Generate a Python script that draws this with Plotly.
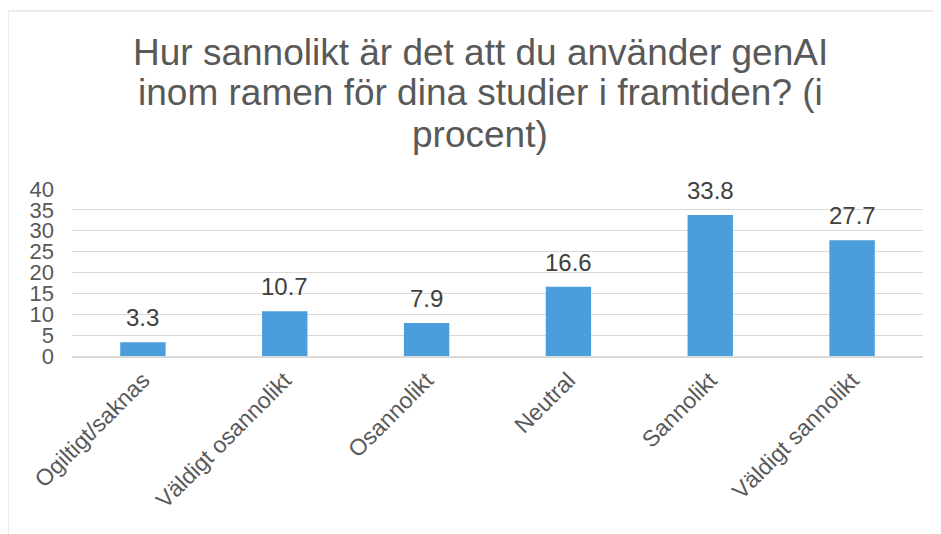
import plotly.graph_objects as go

categories = ["Ogiltigt/saknas", "Väldigt osannolikt", "Osannolikt", "Neutral", "Sannolikt", "Väldigt sannolikt"]
values = [3.3, 10.7, 7.9, 16.6, 33.8, 27.7]
title_lines = [
    "Hur sannolikt är det att du använder genAI",
    "inom ramen för dina studier i framtiden? (i",
    "procent)",
]
y_ticks = [0, 5, 10, 15, 20, 25, 30, 35, 40]

FONT = "Arial, Liberation Sans, sans-serif"
W, H = 941, 534
OFF = 8  # page body margin offset
L, R, T, B = 72 - OFF, 941 - (923 - OFF), 189 - OFF, 534 - (356 - OFF)
plot_h = H - T - B
plot_w = W - L - R

def px_to_paper_x(px):
    return (px - OFF - L) / plot_w

def px_to_paper_y(py):
    return (H - B - (py - OFF)) / plot_h

fig = go.Figure()
fig.add_trace(go.Bar(
    x=categories, y=values,
    marker=dict(color="#4A9EDB", line=dict(width=0)),
    hoverinfo="x+y",
))

annotations = []
for cat, v in zip(categories, values):
    annotations.append(dict(
        x=cat, y=v, xref="x", yref="y", text=f"{v:.1f}", showarrow=False,
        yanchor="bottom", yshift=9,
        font=dict(family=FONT, size=24, color="#404040"),
    ))

title_centers = [52, 93, 134]
for line, cy in zip(title_lines, title_centers):
    annotations.append(dict(
        x=px_to_paper_x(480), y=px_to_paper_y(cy), xref="paper", yref="paper",
        text=line, showarrow=False, xanchor="center", yanchor="middle",
        font=dict(family=FONT, size=37, color="#595959"),
    ))

fig.update_layout(
    width=W, height=H,
    margin=dict(l=L, r=R, t=T, b=B, autoexpand=False),
    paper_bgcolor="white", plot_bgcolor="white",
    showlegend=False,
    bargap=0.68,
    annotations=annotations,
    shapes=[dict(
        type="rect", xref="paper", yref="paper",
        x0=px_to_paper_x(8), x1=px_to_paper_x(960),
        y0=px_to_paper_y(560), y1=px_to_paper_y(11),
        line=dict(color="#D9D9D9", width=1), fillcolor="rgba(0,0,0,0)", layer="below",
    )],
    xaxis=dict(
        tickangle=-45, showgrid=False, showline=True, linecolor="#D9D9D9", linewidth=1.5,
        tickfont=dict(family=FONT, size=23, color="#595959"), ticks="",
        zeroline=False,
    ),
    yaxis=dict(
        range=[0, 40], tickvals=y_ticks, showgrid=True, gridcolor="#D9D9D9", gridwidth=1.3,
        zeroline=False, showline=False, ticks="",
        tickfont=dict(family=FONT, size=22, color="#595959"),
        ticklabelstandoff=17,
    ),
)

fig.write_html("out.html")
